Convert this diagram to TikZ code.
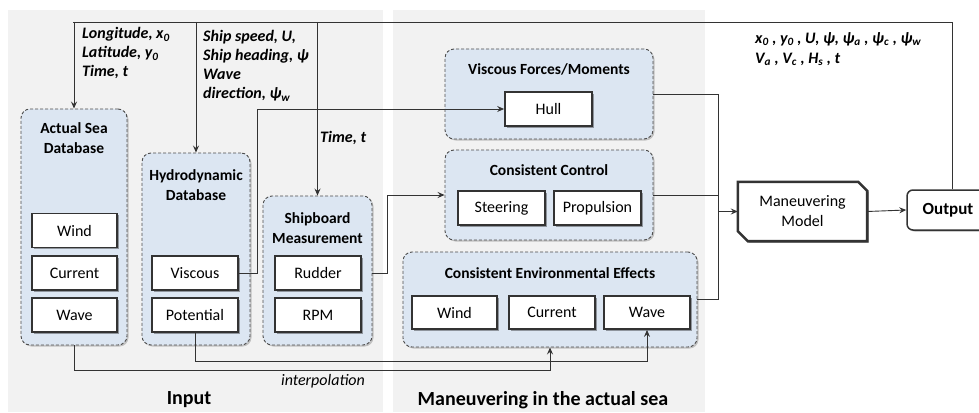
\documentclass[tikz,border=0pt]{standalone}
\usepackage{fontspec}
\setmainfont{Carlito}
\usetikzlibrary{arrows.meta,shadows,calc}
\definecolor{panelbg}{HTML}{F2F2F2}
\definecolor{boxblue}{HTML}{DCE6F2}
\definecolor{linec}{HTML}{333333}
\begin{document}
\begin{tikzpicture}[x=1pt,y=-1pt,
  arr/.style={draw=linec, line width=0.9pt, -{Stealth[length=7pt,width=6pt,inset=2.5pt]}},
  wire/.style={draw=linec, line width=0.9pt},
  cont/.style={draw=gray!60!black, line width=0.9pt, dash pattern=on 3pt off 2pt, fill=boxblue,
    rounded corners=9pt, inner sep=0pt,
    drop shadow={shadow xshift=1.5pt,shadow yshift=-1.5pt,fill=black,opacity=0.2}},
  inbox/.style={draw=linec, line width=1.8pt, fill=white, minimum height=34pt, inner sep=0pt,
    font=\fontsize{16}{18}\selectfont,
    drop shadow={shadow xshift=1.5pt,shadow yshift=-1.5pt,fill=black,opacity=0.35}},
  ttl/.style={font=\fontsize{15.5}{20}\selectfont\bfseries, align=center, inner sep=0pt},
  lbl/.style={font=\fontsize{16}{19}\selectfont\bfseries\itshape, align=left, inner sep=0pt},
  big/.style={font=\fontsize{20}{22}\selectfont\bfseries, inner sep=0pt}
]
\useasboundingbox (0,0) rectangle (979,412);
% panels
\fill[panelbg] (8,10) rectangle (383,412);
\fill[panelbg] (393,10) rectangle (705,412);

% containers
\node[cont, minimum width=106pt, minimum height=236pt] (actual) at (74,227) {};
\node[cont, minimum width=108pt, minimum height=192pt] (hydro) at (196,249) {};
\node[cont, minimum width=109pt, minimum height=149pt] (ship) at (317.5,270.5) {};
\node[cont, minimum width=208pt, minimum height=90pt] (visc) at (549,94) {};
\node[cont, minimum width=208pt, minimum height=90pt] (ctrl) at (549,195) {};
\node[cont, minimum width=294pt, minimum height=95pt] (env) at (550,299.5) {};

% titles
\node[ttl] (actualT) at (74,138) {Actual Sea\\Database};
\node[ttl] (hydroT) at (196,185) {Hydrodynamic\\Database};
\node[ttl] (shipT) at (317.5,228) {Shipboard\\Measurement};
\node[ttl] (viscT) at (549,69) {Viscous Forces/Moments};
\node[ttl] (ctrlT) at (549,170) {Consistent Control};
\node[ttl] (envT) at (550,273) {Consistent Environmental Effects};

% inner boxes
\node[inbox, minimum width=85pt] (aWind) at (74.5,230.5) {Wind};
\node[inbox, minimum width=85pt] (aCur) at (74.5,273) {Current};
\node[inbox, minimum width=85pt] (aWave) at (74.5,315) {Wave};
\node[inbox, minimum width=86pt] (hVisc) at (195,273) {Viscous};
\node[inbox, minimum width=86pt] (hPot) at (195,315) {Potential};
\node[inbox, minimum width=86pt] (sRud) at (318,273) {Rudder};
\node[inbox, minimum width=86pt] (sRPM) at (318,315) {RPM};
\node[inbox, minimum width=87pt] (hull) at (548.5,109) {Hull};
\node[inbox, minimum width=87pt] (steer) at (501.5,208) {Steering};
\node[inbox, minimum width=87pt] (prop) at (597.5,208) {Propulsion};
\node[inbox, minimum width=85pt, minimum height=33pt] (eWind) at (454.5,312.5) {Wind};
\node[inbox, minimum width=86pt, minimum height=33pt] (eCur) at (552,312.5) {Current};
\node[inbox, minimum width=86pt, minimum height=33pt] (eWave) at (647,312.5) {Wave};

% maneuvering model
\node[minimum width=129pt, minimum height=59pt, inner sep=0pt] (model) at (802.5,211.5) {};
\draw[linec, line width=2.6pt, line join=miter, fill=white,
    drop shadow={shadow xshift=1.5pt,shadow yshift=-1.5pt,fill=black,opacity=0.35}]
  (model.north west) -- ($(model.north east)+(-9,0)$) -- ($(model.north east)+(0,9)$)
  -- (model.south east) -- ($(model.south west)+(10,0)$) -- ($(model.south west)+(0,-10)$) -- cycle;
\node[align=center, inner sep=0pt, font=\fontsize{16}{20}\selectfont] (modelT) at (model.center) {Maneuvering\\Model};

% output
\node[draw=linec, line width=1.5pt, fill=white, rounded corners=6pt, minimum width=82pt,
  minimum height=40pt, inner sep=0pt, font=\fontsize{17}{18}\selectfont\bfseries,
  drop shadow={shadow xshift=1.5pt,shadow yshift=-1.5pt,fill=black,opacity=0.3}] (output) at (948,210) {Output};

% labels
\node[lbl, anchor=north west] (lab1) at (82,27) {Longitude, x\textsubscript{0}\\Latitude, y\textsubscript{0}\\Time, t};
\node[lbl, anchor=north west] (lab2) at (203,30) {Ship speed, U,\\Ship heading, ψ\\Wave\\direction, ψ\textsubscript{w}};
\node[lbl, anchor=west] (lab3) at (320,138) {Time, t};
\node[lbl, anchor=north west, font=\fontsize{16}{20}\selectfont\bfseries\itshape] (lab4) at (755,32) {x\textsubscript{0} , y\textsubscript{0} , U, ψ, ψ\textsubscript{a} , ψ\textsubscript{c} , ψ\textsubscript{w}\\V\textsubscript{a} , V\textsubscript{c} , H\textsubscript{s} , t};
\node[font=\fontsize{16}{18}\selectfont\itshape, inner sep=0pt] (interp) at (323,381) {interpolation};
\node[big] (inputL) at (189,400) {Input};
\node[big] (manL) at (543,400) {Maneuvering in the actual sea};

% top feedback line
\coordinate (tl) at (73,22);
\coordinate (tr) at (952,22);
\draw[wire] (tr |- output.north) -- (tr) -- (tl);
\draw[arr] (actual.north |- tl) -- (actual.north);
\draw[arr] (hydro.north |- tl) -- (hydro.north);
\draw[arr] (ship.north |- tl) -- (ship.north);

% viscous -> hull
\draw[arr] (hVisc.east) -- ++(19,0) |- (hull.west);
% shipboard -> control
\draw[arr] (ship.east |- sRud.east) -- ++(15,0) |- (ctrl.west);

% combine to model
\coordinate (mx) at (718,0);
\draw[wire] (visc.east) -- (visc.east -| mx) -- (env.east -| mx) -- (env.east);
\draw[wire] (ctrl.east) -- (ctrl.east -| mx);
\draw[arr] (model.west -| mx) -- (model.west);
\draw[arr] (model.east) -- (output.west);

% interpolation lines
\draw[arr] (actual.south) -- ++(0,25) -| (env.south);
\draw[arr] (hPot.south) -- ++(0,29) -| (eWave.south);
\end{tikzpicture}
\end{document}
